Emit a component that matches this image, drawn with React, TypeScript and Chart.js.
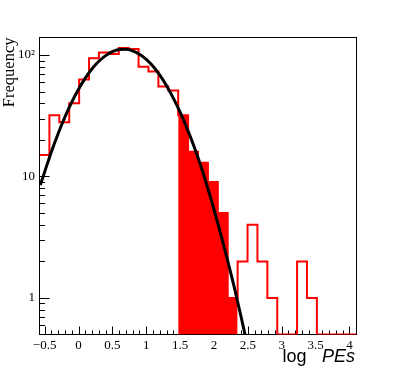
import React, { useEffect, useRef } from "react";
import { Chart, registerables } from "chart.js";

Chart.register(...registerables);

// ---- data ----
const X_MIN = -0.576;
const X_MAX = 4.104;
const Y_MIN = 0.5;
const Y_MAX = 139.4;

// histogram counts, 32 equal bins from X_MIN to X_MAX
const binCounts = [
  15, 32, 28, 40, 63, 94, 105, 102, 114, 112, 80, 73, 55, 51, 32, 16,
  13, 9, 5, 1, 2, 4, 2, 1, 0, 0, 2, 1, 0, 0, 0, 0,
];
// bins shown filled
const filledBins = [14, 15, 16, 17, 18, 19];

// fitted curve
const fitX = [
  -0.565, -0.5, -0.4, -0.3, -0.2, -0.1, 0, 0.1, 0.2, 0.3, 0.4, 0.5, 0.6, 0.7,
  0.8, 0.9, 1.0, 1.1, 1.2, 1.3, 1.4, 1.5, 1.6, 1.7, 1.8, 1.9, 2.0, 2.1, 2.2,
  2.3, 2.4, 2.5,
];
const fitY = [
  8.5, 10.9, 16.0, 22.6, 30.9, 40.9, 52.3, 64.6, 77.0, 88.8, 98.9, 106.5,
  110.8, 111.4, 108.2, 101.5, 92.1, 80.7, 68.3, 55.9, 44.2, 33.8, 25.0, 18.0,
  12.5, 8.3, 5.35, 3.35, 2.05, 1.22, 0.7, 0.39,
];

const xTickValues = [-0.5, 0, 0.5, 1, 1.5, 2, 2.5, 3, 3.5, 4];
const xTickLabels = ["\u22120.5", "0", "0.5", "1", "1.5", "2", "2.5", "3", "3.5", "4"];
const yTickValues = [1, 10, 100];
const yTickLabels = ["1", "10", "10\u00b2"];

const yAxisTitle = "Frequency";
const xAxisTitleMain = "log";
const xAxisTitleItalic = "PEs";

const RED = "#ff0000";

const binWidth = (X_MAX - X_MIN) / binCounts.length;
const edge = (k: number) => X_MIN + k * binWidth;
const floorVal = (v: number) => (v > Y_MIN ? v : Y_MIN);

const outlineData = [
  ...binCounts.map((c, k) => ({ x: edge(k), y: floorVal(c) })),
  { x: X_MAX, y: floorVal(binCounts[binCounts.length - 1]) },
];
const fillData = [
  ...filledBins.map((k) => ({ x: edge(k), y: floorVal(binCounts[k]) })),
  {
    x: edge(filledBins[filledBins.length - 1] + 1),
    y: floorVal(binCounts[filledBins[filledBins.length - 1]]),
  },
];
const fitData = fitX.map((x, i) => ({ x, y: fitY[i] }));

const framePlugin = {
  id: "rootFrame",
  beforeDatasetsDraw(chart: any) {
    const { ctx, chartArea: a, scales } = chart;
    const xs = scales.x;
    const ys = scales.y;
    ctx.save();
    ctx.strokeStyle = "#000";
    ctx.lineWidth = 1;
    ctx.strokeRect(a.left, a.top, a.right - a.left, a.bottom - a.top);
    ctx.beginPath();
    for (let i = -6; i <= 42; i++) {
      const v = i / 10;
      if (v <= X_MIN || v >= X_MAX) continue;
      const px = Math.round(xs.getPixelForValue(v)) + 0.5;
      const len = i % 5 === 0 ? 8 : 4;
      ctx.moveTo(px, a.bottom);
      ctx.lineTo(px, a.bottom - len);
    }
    for (const d of [0.1, 1, 10, 100]) {
      for (let m = 1; m <= 9; m++) {
        const v = m * d;
        if (v <= Y_MIN * 1.0001 || v >= Y_MAX) continue;
        const py = Math.round(ys.getPixelForValue(v)) + 0.5;
        const len = m === 1 ? 10 : 5.5;
        ctx.moveTo(a.left, py);
        ctx.lineTo(a.left + len, py);
      }
    }
    ctx.stroke();
    ctx.restore();
  },
  afterDraw(chart: any) {
    const { ctx } = chart;
    ctx.save();
    ctx.fillStyle = "#000";
    ctx.textBaseline = "alphabetic";
    ctx.textAlign = "left";
    ctx.font = '18px "Liberation Sans", Arial, sans-serif';
    ctx.fillText(xAxisTitleMain, 282.5, 362);
    ctx.font = 'italic 18px "Liberation Sans", Arial, sans-serif';
    ctx.fillText(xAxisTitleItalic, 322, 362);
    ctx.restore();
  },
};

export default function App() {
  const ref = useRef<HTMLCanvasElement | null>(null);
  useEffect(() => {
    if (!ref.current) return;
    const serif = '"Liberation Serif", "Times New Roman", serif';
    const chart = new Chart(ref.current, {
      type: "line",
      data: {
        datasets: [
          {
            label: "fit",
            data: fitData,
            borderColor: "#000",
            borderWidth: 3,
            pointRadius: 0,
            fill: false,
            cubicInterpolationMode: "monotone",
            clip: 0,
            order: 0,
          } as any,
          {
            label: "hist",
            data: outlineData,
            borderColor: RED,
            borderWidth: 2,
            pointRadius: 0,
            fill: false,
            stepped: "before",
            order: 1,
          } as any,
          {
            label: "filled",
            data: fillData,
            borderColor: "rgba(0,0,0,0)",
            backgroundColor: RED,
            borderWidth: 1,
            pointRadius: 0,
            fill: "start",
            stepped: "before",
            order: 2,
          } as any,
        ],
      },
      options: {
        animation: false,
        responsive: false,
        devicePixelRatio: 1,
        parsing: false as any,
        layout: { padding: { top: 37.5, right: 39.5, left: 0, bottom: 0 } },
        plugins: {
          legend: { display: false },
          tooltip: { enabled: false },
        },
        scales: {
          x: {
            type: "linear",
            min: X_MIN,
            max: X_MAX,
            grid: { display: false, drawTicks: false },
            border: { display: false },
            afterBuildTicks: (s: any) => {
              s.ticks = xTickValues.map((v) => ({ value: v }));
            },
            afterFit: (s: any) => {
              s.height = 37.5;
            },
            ticks: {
              autoSkip: false,
              maxRotation: 0,
              padding: 3,
              color: "#000",
              font: { family: serif, size: 13 },
              callback: (v: any) => {
                const i = xTickValues.findIndex((t) => Math.abs(t - Number(v)) < 1e-6);
                return i >= 0 ? xTickLabels[i] : "";
              },
            },
          },
          y: {
            type: "logarithmic",
            min: Y_MIN,
            max: Y_MAX,
            grid: { display: false, drawTicks: false },
            border: { display: false },
            afterBuildTicks: (s: any) => {
              s.ticks = yTickValues.map((v) => ({ value: v }));
            },
            afterFit: (s: any) => {
              s.width = 39.5;
            },
            title: {
              display: true,
              text: yAxisTitle,
              align: "end",
              color: "#000",
              padding: 0,
              font: { family: serif, size: 16.5 },
            },
            ticks: {
              autoSkip: false,
              padding: 4.5,
              color: "#000",
              font: { family: serif, size: 13 },
              callback: (v: any) => {
                const i = yTickValues.findIndex((t) => Math.abs(t - Number(v)) < 1e-6);
                return i >= 0 ? yTickLabels[i] : "";
              },
            },
          },
        },
      } as any,
      plugins: [framePlugin],
    });
    return () => chart.destroy();
  }, []);
  return (
    <div style={{ position: "fixed", left: 0, top: 0, width: 396, height: 372, background: "#fff" }}>
      <canvas ref={ref} width={396} height={372} style={{ display: "block" }} />
    </div>
  );
}
